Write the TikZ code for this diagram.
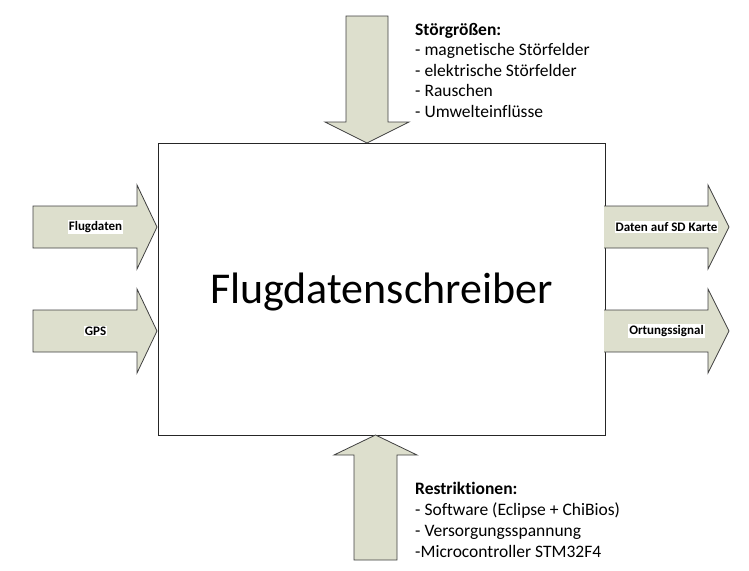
\documentclass[tikz,border=0pt]{standalone}
\usepackage{fontspec}
\setmainfont{Carlito}[Ligatures={NoCommon}]
\begin{document}
\begin{tikzpicture}[x=1pt,y=-1pt,
  arrowshape/.style={draw=black!75,fill=arrowfill,line width=0.8pt,line join=miter},
  lbl/.style={fill=white,inner sep=1pt,font=\fontsize{13}{15}\selectfont\bfseries},
  listtext/.style={anchor=base west,inner sep=0pt,font=\fontsize{17.5}{21}\selectfont}]
\definecolor{arrowfill}{HTML}{DDDFCD}
\useasboundingbox (0,0) rectangle (749,570);
% main box
\node[draw=black!85,line width=0.8pt,minimum width=447pt,minimum height=292pt,inner sep=0pt] (box) at (381.5,289) {};
\node[font=\fontsize{44}{50}\selectfont,anchor=base] (title) at (381.5,303) {Flugdatenschreiber};
% left arrows
\foreach \cy/\nm/\txt in {227/fd/Flugdaten,331/gps/GPS}{
  \draw[arrowshape] (33,\cy-21) -- (137,\cy-21) -- (137,\cy-42) -- (157,\cy) -- (137,\cy+42) -- (137,\cy+21) -- (33,\cy+21) -- cycle;
  \node[lbl] (\nm) at (95.5,\cy) {\txt};
}
% right arrows
\foreach \cy/\nm/\txt in {227/sd/Daten auf SD Karte,331/ort/Ortungssignal}{
  \draw[arrowshape] (604,\cy-21) -- (708,\cy-21) -- (708,\cy-42) -- (729,\cy) -- (708,\cy+42) -- (708,\cy+21) -- (604,\cy+21);
  \node[lbl] (\nm) at (666.5,\cy) {\txt};
}
% top arrow
\draw[arrowshape] (346,16) -- (388,16) -- (388,122) -- (409,122) -- (367,143) -- (325,122) -- (346,122) -- cycle;
% bottom arrow
\draw[arrowshape] (354,560) -- (397,560) -- (397,455) -- (417,455) -- (375.5,435) -- (334,455) -- (354,455) -- cycle;
% texts
\node[listtext] (s0) at (415,35) {\textbf{Störgrößen:}};
\node[listtext] (s1) at (415,55.5) {- magnetische Störfelder};
\node[listtext] (s2) at (415,76) {- elektrische Störfelder};
\node[listtext] (s3) at (415,96.5) {- Rauschen};
\node[listtext] (s4) at (415,117) {- Umwelteinflüsse};
\node[listtext] (r0) at (415,494) {\textbf{Restriktionen:}};
\node[listtext] (r1) at (415,515) {- Software (Eclipse + ChiBios)};
\node[listtext] (r2) at (415,536) {- Versorgungsspannung};
\node[listtext] (r3) at (415,557) {-Microcontroller STM32F4};
\end{tikzpicture}
\end{document}
